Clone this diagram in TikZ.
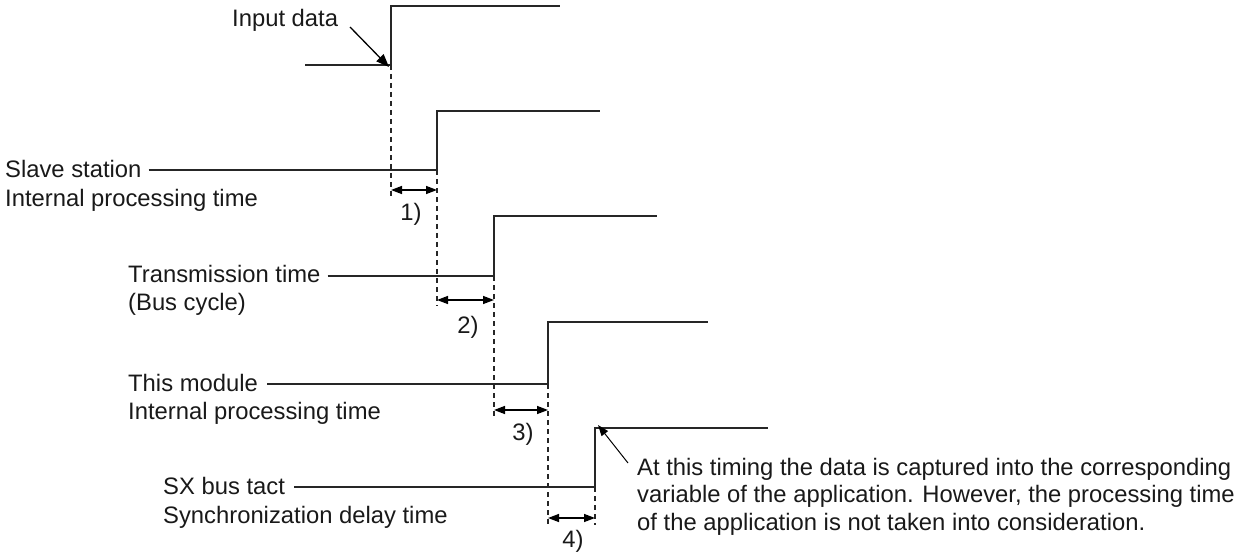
\documentclass[tikz,border=0pt]{standalone}
\usepackage{fontspec}
\setmainfont{Liberation Sans}
\usetikzlibrary{arrows.meta}
\begin{document}
\begin{tikzpicture}[x=1pt,y=-1pt,
  wave/.style={line width=1.6pt, draw=black!85},
  lbl/.style={anchor=base west, inner sep=0pt, font=\fontsize{23.8}{27.5}\selectfont, text=black!90},
  num/.style={anchor=base, inner sep=0pt, font=\fontsize{23.8}{27.5}\selectfont, text=black!90},
  guide/.style={dash pattern=on 5pt off 4pt, line width=1.2pt, draw=black!85},
  dim/.style={{Triangle[length=11pt,width=8pt]}-{Triangle[length=11pt,width=8pt]}, line width=1.4pt},
  ptr/.style={-{Triangle[length=13pt,width=10pt]}, line width=1.3pt},
  thinptr/.style={-{Triangle[length=11pt,width=8pt]}, line width=1pt}]
\useasboundingbox (0,0) rectangle (1236,553);

% Input data
\node[lbl] (inp) at (232,27) {Input data};
\coordinate (a0) at (305,65);
\coordinate (a1) at (391,65);
\coordinate (a2) at (391,6);
\coordinate (a3) at (560,6);
\draw[wave] (a0) -- (a1) -- (a2) -- (a3);
\coordinate (inptail) at (350,27);
\draw[ptr] (inptail) -- ([xshift=-2pt,yshift=-2pt]a1);

% Slave station
\node[lbl] (s1) at (5,178) {Slave station};
\node[lbl] (s2) at (5,207) {Internal processing time};
\coordinate (b1) at (437,170);
\coordinate (b2) at (437,111);
\coordinate (b3) at (600,111);
\draw[wave] ([xshift=7pt]s1.east |- b1) -- (b1) -- (b2) -- (b3);

% Transmission
\node[lbl] (t1) at (128,283) {Transmission time};
\node[lbl] (t2) at (128,310) {(Bus cycle)};
\coordinate (c1) at (494,276);
\coordinate (c2) at (494,216);
\coordinate (c3) at (657,216);
\draw[wave] ([xshift=7pt]t1.east |- c1) -- (c1) -- (c2) -- (c3);

% This module
\node[lbl] (m1) at (128,391) {This module};
\node[lbl] (m2) at (128,419) {Internal processing time};
\coordinate (d1) at (548,384);
\coordinate (d2) at (548,322);
\coordinate (d3) at (708,322);
\draw[wave] ([xshift=9pt]m1.east |- d1) -- (d1) -- (d2) -- (d3);

% SX bus tact
\node[lbl] (x1) at (163,494) {SX bus tact};
\node[lbl] (x2) at (163,523) {Synchronization delay time};
\coordinate (e1) at (595,487);
\coordinate (e2) at (595,428);
\coordinate (e3) at (768,428);
\draw[wave] ([xshift=9pt]x1.east |- e1) -- (e1) -- (e2) -- (e3);

% dashed guides
\coordinate (g1) at (391,196);
\coordinate (g2) at (437,306);
\coordinate (g3) at (494,416);
\coordinate (g4) at (548,525);
\coordinate (g5) at (595,525);
\draw[guide] (a1) -- (g1);
\draw[guide] (b1) -- (g2);
\draw[guide] (c1) -- (g3);
\draw[guide] (d1) -- (g4);
\draw[guide] (e1) -- (g5);

% dimension arrows
\draw[dim] (391,190) -- (437,190);
\draw[dim] (437,300) -- (494,300);
\draw[dim] (494,410) -- (548,410);
\draw[dim] (548,518) -- (595,518);
\node[num] (n1) at (411,221) {1)};
\node[num] (n2) at (468,333) {2)};
\node[num] (n3) at (523,440) {3)};
\node[num] (n4) at (573,547) {4)};

% note
\node[lbl, align=left] (note) at (637,530)
  {At this timing the data is captured into the corresponding\\
   variable of the application. However, the processing time\\
   of the application is not taken into consideration.};
\coordinate (notetail) at (628,463);
\draw[thinptr] (notetail) -- ([xshift=3pt,yshift=3pt]e2);
\end{tikzpicture}
\end{document}
